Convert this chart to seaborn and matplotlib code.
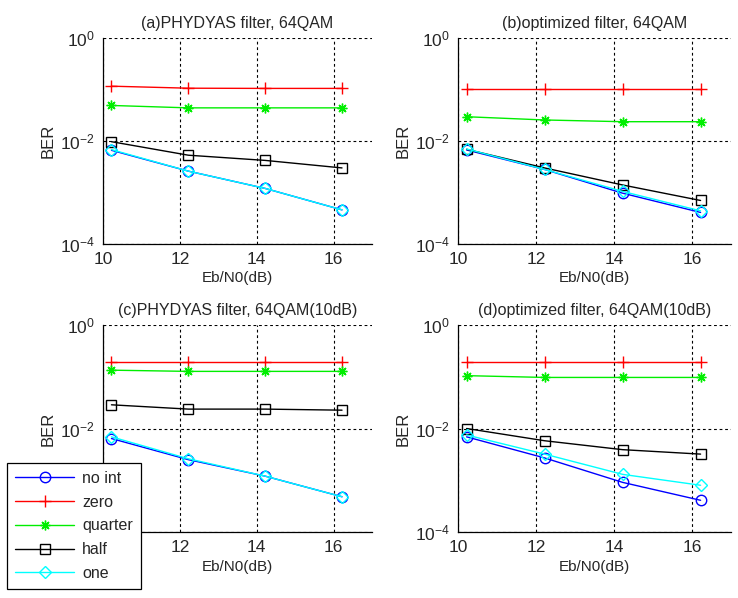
import numpy as np
import seaborn as sns
import matplotlib.pyplot as plt

sns.set_style("white")
plt.rcParams['font.family'] = ['Liberation Sans', 'DejaVu Sans']
plt.rcParams['mathtext.default'] = 'regular'
plt.rcParams['axes.unicode_minus'] = False

# Eb/N0 points (dB)
ebn0 = [10.22, 12.22, 14.22, 16.22]

series_names = ["no int", "zero", "quarter", "half", "one"]

# (a) PHYDYAS filter, 64QAM
a_noint = [0.0066, 0.0026, 0.0012, 0.00046]
a_zero = [0.116, 0.106, 0.105, 0.105]
a_quarter = [0.049, 0.044, 0.044, 0.044]
a_half = [0.0097, 0.0053, 0.0042, 0.0030]
a_one = [0.0068, 0.0026, 0.0012, 0.00046]

# (b) optimized filter, 64QAM
b_noint = [0.0067, 0.0028, 0.00097, 0.00041]
b_zero = [0.100, 0.100, 0.100, 0.100]
b_quarter = [0.0296, 0.0256, 0.0237, 0.0237]
b_half = [0.0069, 0.0030, 0.0014, 0.0007]
b_one = [0.0070, 0.0028, 0.00105, 0.00044]

# (c) PHYDYAS filter, 64QAM(10dB)
c_noint = [0.0064, 0.0025, 0.0012, 0.00048]
c_zero = [0.19, 0.19, 0.19, 0.19]
c_quarter = [0.134, 0.127, 0.127, 0.127]
c_half = [0.0287, 0.0237, 0.0237, 0.0226]
c_one = [0.0069, 0.0026, 0.0012, 0.00048]

# (d) optimized filter, 64QAM(10dB)
d_noint = [0.0069, 0.0027, 0.00091, 0.00041]
d_zero = [0.19, 0.19, 0.19, 0.19]
d_quarter = [0.105, 0.097, 0.097, 0.097]
d_half = [0.0100, 0.0058, 0.0039, 0.0032]
d_one = [0.0075, 0.0032, 0.0013, 0.0008]

titles = ["(a)PHYDYAS filter, 64QAM", "(b)optimized filter, 64QAM",
          "(c)PHYDYAS filter, 64QAM(10dB)", "(d)optimized filter, 64QAM(10dB)"]
panels = [
    [a_noint, a_zero, a_quarter, a_half, a_one],
    [b_noint, b_zero, b_quarter, b_half, b_one],
    [c_noint, c_zero, c_quarter, c_half, c_one],
    [d_noint, d_zero, d_quarter, d_half, d_one],
]

colors = ["#0000ff", "#ff0000", "#00ee00", "#000000", "#00ffff"]
markers = ["o", "+", (8, 2, 0), "s", "D"]
msizes = [7.5, 9, 7, 7.5, 6.5]

W, H = 738, 598
fig = plt.figure(figsize=(W / 100, H / 100), dpi=100)
# pixel boxes: left, right, top, bottom
boxes = [(103, 372, 38, 244), (458, 731, 38, 244),
         (103, 372, 325, 532), (458, 731, 325, 532)]

handles = []
for i, (l, r, t, b) in enumerate(boxes):
    ax = fig.add_axes([l / W, 1 - b / H, (r - l) / W, (b - t) / H])
    for j, vals in enumerate(panels[i]):
        sns.lineplot(x=ebn0, y=vals, ax=ax, color=colors[j], marker=markers[j],
                     markersize=msizes[j], markerfacecolor='none',
                     markeredgecolor=colors[j], markeredgewidth=1.0,
                     linewidth=1.0, label=series_names[j], legend=False)
    ax.set_yscale('log')
    ax.set_xlim(10, 17)
    ax.set_ylim(1e-4, 1)
    ax.set_xticks([10, 12, 14, 16])
    ax.set_yticks([1e-4, 1e-2, 1])
    ax.minorticks_off()
    ax.tick_params(axis='both', direction='in', length=0, labelsize=12.5, pad=6)
    ax.grid(True, color='black', linestyle=(0, (2.5, 2.5)), linewidth=0.8)
    for side in ['top', 'right']:
        ax.spines[side].set_visible(False)
    for side in ['left', 'bottom']:
        ax.spines[side].set_color('black')
        ax.spines[side].set_linewidth(0.9)
    ax.set_title(titles[i], fontsize=11.5, pad=7)
    ax.set_xlabel("Eb/N0(dB)", fontsize=11, labelpad=3)
    ax.set_ylabel("BER", fontsize=12, labelpad=3)
    if i == 2:
        handles = ax.get_lines()[:5]

leg = fig.legend(handles, series_names, loc='lower left',
                 bbox_to_anchor=(7 / W, 9 / H), borderaxespad=0,
                 fontsize=11.5, fancybox=False,
                 edgecolor='black', framealpha=1, handlelength=3.7,
                 handletextpad=0.5, labelspacing=0.55, borderpad=0.5)
leg.get_frame().set_linewidth(0.9)

fig.savefig("out.png", dpi=100)
